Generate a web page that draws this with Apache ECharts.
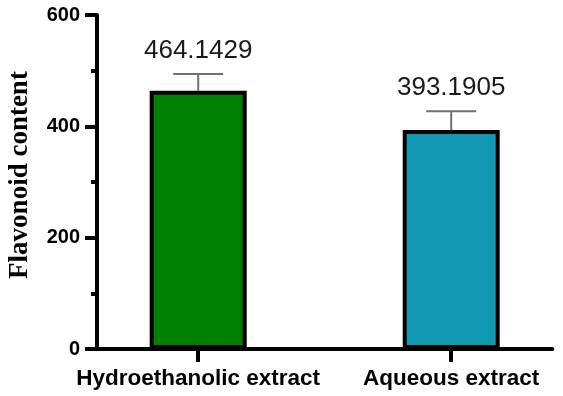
<!DOCTYPE html>
<html>
<head>
<meta charset="utf-8">
<script src="https://cdn.jsdelivr.net/npm/echarts@6/dist/echarts.min.js"></script>
<style>
  html, body { margin: 0; padding: 0; background: #fff; }
  #chart { width: 563px; height: 396px; }
</style>
</head>
<body>
<div id="chart"></div>
<script>
// ---- data ----
var categories = ['Hydroethanolic extract', 'Aqueous extract'];
var values = [464.1429, 393.1905];
var errors = [30, 34];
var barColors = ['#008000', '#1199b4'];
var valueLabels = ['464.1429', '393.1905'];
var yTicks = [0, 200, 400, 600];

// padded category axis so bars sit at the reference positions
var slotOf = [2, 7];
var axisSlots = [];
for (var i = 0; i < 10; i++) axisSlots.push('');
categories.forEach(function (c, k) { axisSlots[slotOf[k]] = c; });

var barData = values.map(function (v, k) {
  return { value: [slotOf[k], v], itemStyle: { color: barColors[k] } };
});
var errData = values.map(function (v, k) {
  return [slotOf[k], v, errors[k], k];
});

var chart = echarts.init(document.getElementById('chart'), null, { renderer: 'canvas' });
chart.setOption({
  animation: false,
  backgroundColor: '#ffffff',
  grid: { left: 97, right: 10.6, top: 15, bottom: 47, containLabel: false, outerBoundsMode: 'none' },
  xAxis: {
    type: 'category',
    data: axisSlots,
    boundaryGap: false,
    axisLine: { show: true, lineStyle: { color: '#000', width: 4 } },
    axisTick: {
      show: true, length: 13, lineStyle: { color: '#000', width: 4 },
      interval: function (idx, val) { return val !== ''; }
    },
    axisLabel: {
      interval: function (idx, val) { return val !== ''; },
      margin: 18,
      color: '#000',
      fontFamily: 'Liberation Sans, Arial, sans-serif',
      fontWeight: 'bold',
      fontSize: 22.5
    },
    splitLine: { show: false }
  },
  yAxis: {
    type: 'value',
    min: yTicks[0],
    max: yTicks[yTicks.length - 1],
    interval: 200,
    name: 'Flavonoid content',
    nameLocation: 'middle',
    nameGap: 63,
    nameTextStyle: {
      fontFamily: 'Liberation Serif, Times New Roman, serif',
      fontWeight: 'bold',
      fontSize: 27,
      color: '#000',
      padding: [0, 0, 0, 14]
    },
    axisLine: { show: true, lineStyle: { color: '#000', width: 4 } },
    axisTick: { show: true, length: 12, lineStyle: { color: '#000', width: 4 } },
    minorTick: { show: true, splitNumber: 2, length: 6, lineStyle: { color: '#000', width: 4 } },
    axisLabel: {
      margin: 17,
      color: '#000',
      fontFamily: 'Liberation Sans, Arial, sans-serif',
      fontWeight: 'bold',
      fontSize: 20
    },
    splitLine: { show: false }
  },
  series: [
    {
      type: 'custom',
      z: 1,
      data: errData,
      encode: { x: 0, y: 1 },
      renderItem: function (params, api) {
        var x = api.value(0);
        var v = api.value(1);
        var e = api.value(2);
        var k = api.value(3);
        var p0 = api.coord([x, v]);
        var p1 = api.coord([x, v + e]);
        var half = 25;
        return {
          type: 'group',
          children: [
            { type: 'line', shape: { x1: p0[0], y1: p0[1], x2: p1[0], y2: p1[1] },
              style: { stroke: '#707070', lineWidth: 2 } },
            { type: 'line', shape: { x1: p1[0] - half, y1: p1[1], x2: p1[0] + half, y2: p1[1] },
              style: { stroke: '#707070', lineWidth: 2 } },
            { type: 'text', x: p1[0], y: p1[1] - 10,
              style: { text: valueLabels[k], textAlign: 'center', textVerticalAlign: 'bottom',
                       fill: '#1a1a1a', fontSize: 26,
                       fontFamily: 'Liberation Sans, Arial, sans-serif' } }
          ]
        };
      }
    },
    {
      type: 'bar',
      z: 2,
      data: barData,
      barWidth: 97,
      itemStyle: { borderColor: '#000', borderWidth: 4 }
    }
  ]
});
</script>
</body>
</html>
